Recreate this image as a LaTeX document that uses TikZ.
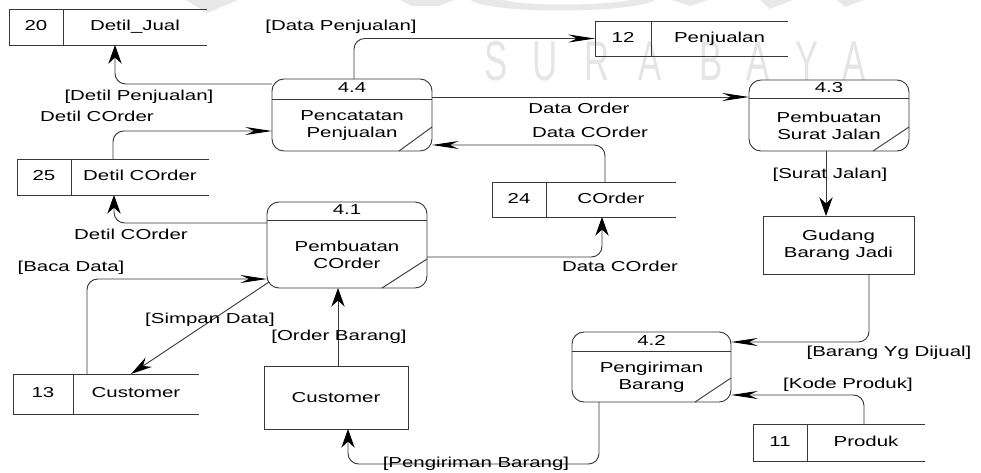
\documentclass[tikz,border=0pt]{standalone}
\usepackage{fontspec}
\setmainfont{Liberation Sans}[FakeStretch=1.42]
\newfontfamily\wmfont{Liberation Sans}[FakeStretch=0.62]
\usetikzlibrary{arrows.meta,calc}

% data store: name, left, divider, right, top, bottom, number, label
\newcommand\dfdstore[8]{%
  \node[storecell, minimum width={(#3-#2)*0.75pt}, minimum height={(#6-#5)*0.75pt}]
    (#1num) at ({(#2+#3)/2},{(#5+#6)/2}) {#7};
  \node[storebody, minimum width={(#4-#3)*0.75pt}, minimum height={(#6-#5)*0.75pt}]
    (#1) at ({(#3+#4)/2},{(#5+#6)/2}) {#8};
  \draw[line] (#1.north west) -- (#1.north east) (#1.south west) -- (#1.south east);
}
% process: name, left, right, top, bottom, header line, number, text
\newcommand\dfdproc[8]{%
  \node[procbox, minimum width={(#3-#2)*0.75pt}, minimum height={(#5-#4)*0.75pt}]
    (#1) at ({(#2+#3)/2},{(#4+#5)/2}) {};
  \draw[line] (#1.west |- 0,#6) -- (#1.east |- 0,#6);
  \node[lbl] (#1id) at ({(#2+#3)/2},{(#4+#6)/2}) {#7};
  \node[bodytext] (#1txt) at ({(#2+#3)/2},{(#6+#5)/2+1}) {#8};
}

\begin{document}
\begin{tikzpicture}[x=0.75pt,y=-0.75pt,
  every node/.style={font=\fontsize{10.8pt}{12.75pt}\selectfont, inner sep=0pt, outer sep=0pt, text=black},
  line/.style={draw=black!78, line width=0.7pt},
  lbl/.style={text height=7.9pt, text depth=2.2pt},
  bodytext/.style={align=center},
  storecell/.style={line, rectangle, lbl},
  storebody/.style={rectangle, lbl},
  procbox/.style={line, rectangle, rounded corners=9pt},
  entity/.style={line, rectangle, align=center},
  flow/.style={line, rounded corners=8pt},
  harr/.style={line, -{Stealth[length=20pt,width=6pt,color=black]}},
  varr/.style={line, -{Stealth[length=14pt,width=10pt,color=black]}},
  darr/.style={line, -{Stealth[length=16pt,width=8.5pt,color=black]}},
  wmshape/.style={fill=black!9, draw=none},
  wm/.style={text=black!10, text depth=0pt, font=\wmfont\fontsize{42pt}{42pt}\selectfont}
]
\useasboundingbox (0,0) rectangle (981,472);
\fill[white] (0,0) rectangle (981,472);

% faint watermark behind the diagram
\fill[wmshape] (186,0) -- (238,0) -- (207,13) -- cycle;
\fill[wmshape] (400,0) -- (455,0) -- (438,6) -- (412,6) -- cycle;
\fill[wmshape] (470,0) .. controls (490,14) and (630,14) .. (655,0) -- (630,0) .. controls (600,6) and (520,6) .. (505,0) -- cycle;
\fill[wmshape] (672,0) -- (708,0) -- (690,6) -- cycle;
\fill[wmshape] (760,0) -- (793,0) -- (770,9) -- cycle;
\fill[wmshape] (837,0) -- (864,0) -- (845,7) -- cycle;
\foreach \ch/\cx in {S/496,U/545.5,R/597.5,A/650,B/711.5,A/758.5,Y/807.5,A/854.5}
  \node[wm] at (\cx,61) {\ch};

% data stores
\dfdstore{s20}{9}{63}{207}{9}{45}{20}{Detil\_Jual}
\dfdstore{s12}{595}{651}{788}{21}{56}{12}{Penjualan}
\dfdstore{s25}{17}{71}{209}{159}{195}{25}{Detil COrder}
\dfdstore{s24}{492}{546}{676}{182}{217}{24}{COrder}
\dfdstore{s13}{13}{73}{199}{374}{414}{13}{Customer}
\dfdstore{s11}{753}{807}{925}{424}{461}{11}{Produk}

% processes
\dfdproc{p44}{272}{432}{79}{151}{99}{4.4}{Pencatatan\\Penjualan}
\draw[line] ([xshift=-24.75pt]p44.south east) -- ([yshift=18pt]p44.south east);
\dfdproc{p43}{749}{909}{80}{151}{98}{4.3}{Pembuatan\\Surat Jalan}
\draw[line] ([xshift=-27pt]p43.south east) -- ([yshift=18pt]p43.south east);
\dfdproc{p41}{267}{427}{202}{288}{220}{4.1}{Pembuatan\\COrder}
\draw[line] ([xshift=-33.75pt]p41.south east) -- ([yshift=21.75pt]p41.south east);
\dfdproc{p42}{572}{731}{332}{402}{351}{4.2}{Pengiriman\\Barang}
\draw[line] ([xshift=-27pt]p42.south east) -- ([yshift=18pt]p42.south east);

% external entities
\node[entity, minimum width=113.25pt, minimum height=43.5pt] (gbj) at (838.5,245) {Gudang\\Barang Jadi};
\node[entity, minimum width=108pt, minimum height=47.25pt] (cust) at (336,397.5) {Customer};

% data flows
\draw[flow, harr] ($(p44.north)+(2,0)$) |- (s12num.west);
\draw[flow, varr] ($(p44.north west)+(0,5)$) -| ($(s20.south)+(-20,0)$);
\draw[flow, harr] ($(s25.north)+(-27,0)$) |- ($(p44.west)+(0,16)$);
\draw[harr] ($(p44.north east)+(0,18)$) -- ($(p43.north west)+(0,17)$);
\draw[flow, harr] ($(s24.north)+(-6,0)$) |- ($(p44.south east)+(0,-6)$);
\draw[flow, varr] ($(p41.east)+(0,12)$) -| ($(s24.south)+(-9,0)$);
\draw[flow, varr] ($(p41.north west)+(0,21)$) -| ($(s25.south)+(-26,0)$);
\draw[flow, harr] ($(s13.north)+(-49,0)$) |- ($(p41.south west)+(0,-9)$);
\draw[darr] ($(p41.south west)+(2,-6)$) -- ($(s13.north)+(-5,0)$);
\coordinate (ordr) at ($(cust.north)+(2,0)$);
\draw[varr] (ordr) -- (ordr |- p41.south);
\draw[varr] ($(p43.south)+(-3,0)$) -- ($(gbj.north)+(-12.5,0)$);
\draw[flow, harr] ($(gbj.south)+(30.5,0)$) |- ($(p42.north east)+(0,10)$);
\draw[flow, harr] ($(s11.north)+(-2,0)$) |- ($(p42.south east)+(0,-7)$);
\draw[flow, varr] ($(p42.south west)+(27,0)$) -- ++(0,62) -| ($(cust.south)+(12,0)$);

% flow labels
\node[lbl] (l1) at (341,27) {[Data Penjualan]};
\node[lbl] (l2) at (139,97) {[Detil Penjualan]};
\node[lbl] (l3) at (97,118) {Detil COrder};
\node[lbl] (l4) at (579,110) {Data Order};
\node[lbl] (l5) at (590,134) {Data COrder};
\node[lbl] (l6) at (131,236) {Detil COrder};
\node[lbl] (l7) at (71,268) {[Baca Data]};
\node[lbl] (l8) at (620,268) {Data COrder};
\node[lbl] (l9) at (830,175) {[Surat Jalan]};
\node[lbl] (l10) at (210,320) {[Simpan Data]};
\node[lbl] (l11) at (339,337) {[Order Barang]};
\node[lbl] (l12) at (889,353) {[Barang Yg Dijual]};
\node[lbl] (l13) at (848,385) {[Kode Produk]};
\node[lbl] (l14) at (476,464) {[Pengiriman Barang]};
\end{tikzpicture}
\end{document}
